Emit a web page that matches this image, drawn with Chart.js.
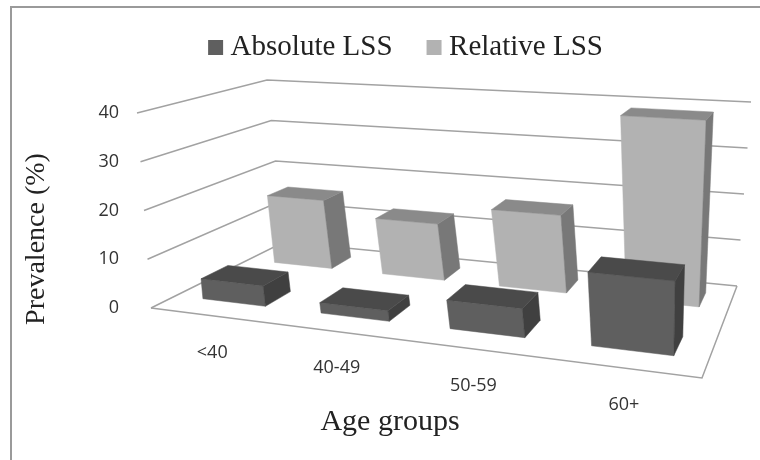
<!DOCTYPE html>
<html>
<head>
<meta charset="utf-8">
<title>Prevalence of LSS by age group</title>
<script src="https://cdn.jsdelivr.net/npm/chart.js@4"></script>
<style>
  html, body { margin: 0; padding: 0; background: #fff; }
  canvas { display: block; }
</style>
</head>
<body>
<canvas id="myChart" width="760" height="460"></canvas>
<script>
// Data
const categories = ['<40', '40-49', '50-59', '60+'];
const absoluteLSS = [4.2, 2.1, 5.6, 14];
const relativeLSS = [15.5, 12.4, 16.6, 38.7];
const yTicks = [0, 10, 20, 30, 40];

// Perspective frame: floor and top of the 3D box on the screen (FL, FR, BR, BL)
const floorQuad = [[151, 308], [702, 378], [737, 286], [284, 242]];
const topQuad = [[137, 113], [713, 156], [751, 102], [267, 80]];
const depths = [[0.16, 0.35], [0.69, 0.87]];
const sideShift = [0.002, 0.006];
const faceColors = [
    { front: '#5f5f5f', top: '#4a4a4a', side: '#404040' },
    { front: '#b2b2b2', top: '#8a8a8a', side: '#787878' },
];
const gridColor = '#a2a2a2';

function makeHomography(q) {
    const [[x0, y0], [x1, y1], [x2, y2], [x3, y3]] = q;
    const dx1 = x1 - x2, dx2 = x3 - x2, sx = x0 - x1 + x2 - x3;
    const dy1 = y1 - y2, dy2 = y3 - y2, sy = y0 - y1 + y2 - y3;
    const den = dx1 * dy2 - dx2 * dy1;
    const g = (sx * dy2 - dx2 * sy) / den;
    const h = (dx1 * sy - sx * dy1) / den;
    const a = x1 - x0 + g * x1, b = x3 - x0 + h * x3;
    const d = y1 - y0 + g * y1, e = y3 - y0 + h * y3;
    return (u, v) => {
        const w = g * u + h * v + 1;
        return [(a * u + b * v + x0) / w, (d * u + e * v + y0) / w];
    };
}
const floorAt = makeHomography(floorQuad);
const topAt = makeHomography(topQuad);

// u: along the categories, d: depth, t: share of the y scale, all 0..1
function project(u, d, t) {
    const p0 = floorAt(u, d), p1 = topAt(u, d);
    return [p0[0] + (p1[0] - p0[0]) * t, p0[1] + (p1[1] - p0[1]) * t];
}

function fillFace(ctx, pts, color) {
    ctx.beginPath();
    pts.forEach((p, i) => i ? ctx.lineTo(p[0], p[1]) : ctx.moveTo(p[0], p[1]));
    ctx.closePath();
    ctx.fillStyle = color;
    ctx.fill();
    ctx.strokeStyle = color;
    ctx.lineWidth = 0.5;
    ctx.stroke();
}

// Bars keep the positions worked out by the scales, only the drawing is 3D
class Bar3dController extends Chart.BarController {
    draw() {
        const { ctx, chartArea: area } = this.chart;
        const [d0, d1] = depths[this.index];
        const colors = faceColors[this.index];
        this.getMeta().data.forEach((bar) => {
            const u0 = (bar.x - bar.width / 2 - area.left) / area.width + sideShift[this.index];
            const u1 = (bar.x + bar.width / 2 - area.left) / area.width + sideShift[this.index];
            const t = (area.bottom - bar.y) / area.height;
            fillFace(ctx, [project(u0, d0, 0), project(u1, d0, 0), project(u1, d0, t), project(u0, d0, t)], colors.front);
            fillFace(ctx, [project(u1, d0, 0), project(u1, d1, 0), project(u1, d1, t), project(u1, d0, t)], colors.side);
            fillFace(ctx, [project(u0, d0, t), project(u1, d0, t), project(u1, d1, t), project(u0, d1, t)], colors.top);
        });
    }
}
Bar3dController.id = 'bar3d';
Bar3dController.defaults = {};
Chart.register(Bar3dController);

const frame3d = {
    id: 'frame3d',
    afterLayout(chart) {
        // legend is off-centre in the picture
        chart.legend.left += 78;
        chart.legend.right += 78;
        chart.legend.top -= 41;
        chart.legend.bottom -= 41;
    },
    beforeDatasetsDraw(chart) {
        const { ctx, chartArea: area, scales } = chart;
        ctx.save();
        // outer frame, open on the right and at the bottom
        ctx.strokeStyle = '#9a9a9a';
        ctx.lineWidth = 2;
        ctx.beginPath();
        ctx.moveTo(11, 460);
        ctx.lineTo(11, 7);
        ctx.lineTo(760, 7);
        ctx.stroke();

        ctx.strokeStyle = gridColor;
        ctx.lineWidth = 1.5;
        scales.y.ticks.forEach((tick) => {
            const t = (area.bottom - scales.y.getPixelForValue(tick.value)) / area.height;
            const a = project(0, 0, t), b = project(0, 1, t), c = project(1, 1, t);
            ctx.beginPath();
            ctx.moveTo(a[0], a[1]);
            ctx.lineTo(b[0], b[1]);
            ctx.lineTo(c[0], c[1]);
            ctx.stroke();
        });
        const fl = project(0, 0, 0), fr = project(1, 0, 0), br = project(1, 1, 0);
        ctx.beginPath();
        ctx.moveTo(fl[0], fl[1]);
        ctx.lineTo(fr[0], fr[1]);
        ctx.lineTo(br[0], br[1]);
        ctx.stroke();

        ctx.fillStyle = '#333';
        ctx.font = '18px "Open Sans"';
        ctx.textAlign = 'center';
        ctx.textBaseline = 'middle';
        categories.forEach((label, i) => {
            const u = (scales.x.getPixelForValue(i) - area.left) / area.width;
            const p = project(u, 0, 0);
            ctx.fillText(label, p[0] + 3, p[1] + 37);
        });

        // y title sits lower than the middle of the axis
        ctx.fillStyle = '#222';
        ctx.font = '28px "Liberation Serif"';
        ctx.translate(37, 239);
        ctx.rotate(-Math.PI / 2);
        ctx.fillText('Prevalence (%)', 0, 0);
        ctx.restore();
    }
};

const myChart = new Chart(document.getElementById('myChart'), {
    type: 'bar3d',
    data: {
        labels: categories,
        datasets: [
            { label: 'Absolute LSS', data: absoluteLSS, backgroundColor: faceColors[0].front },
            { label: 'Relative LSS', data: relativeLSS, backgroundColor: faceColors[1].front },
        ]
    },
    options: {
        responsive: false,
        animation: false,
        layout: { padding: { top: 33, left: 15, right: 113 } },
        datasets: { bar3d: { grouped: false, categoryPercentage: 0.54, barPercentage: 1, clip: false } },
        plugins: {
            tooltip: { enabled: false },
            legend: {
                position: 'top',
                labels: {
                    usePointStyle: true,
                    pointStyle: 'rect',
                    boxWidth: 1,
                    boxHeight: 15,
                    padding: 41,
                    color: '#222',
                    font: { family: '"Liberation Serif"', size: 29 }
                }
            }
        },
        scales: {
            x: {
                type: 'category',
                offset: true,
                grid: { display: false },
                border: { display: false },
                ticks: { display: false },
                afterFit(scale) { scale.height = 152; },
                title: {
                    display: true,
                    text: 'Age groups',
                    color: '#222',
                    padding: { top: 0, bottom: 20 },
                    font: { family: '"Liberation Serif"', size: 30 }
                }
            },
            y: {
                type: 'linear',
                min: 0,
                max: 40,
                grid: { display: false },
                border: { display: false },
                afterBuildTicks(scale) { scale.ticks = yTicks.map((value) => ({ value })); },
                afterFit(scale) { scale.width = 118; },
                ticks: {
                    padding: 6,
                    color: '#333',
                    font: { family: '"Open Sans"', size: 18 }
                }
            }
        }
    },
    plugins: [frame3d]
});
</script>
</body>
</html>
